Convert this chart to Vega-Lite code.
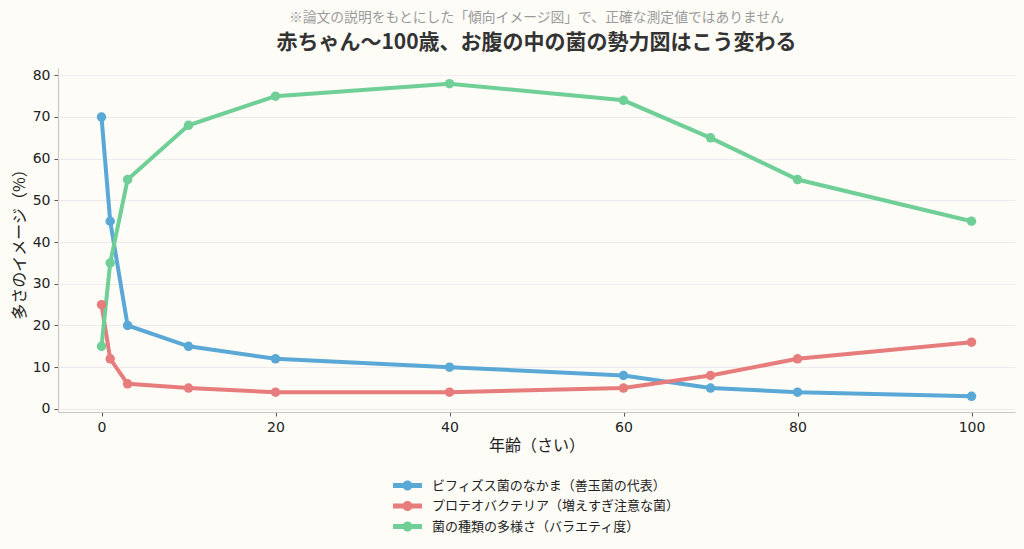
{
  "$schema": "https://vega.github.io/schema/vega-lite/v6.json",
  "width": 957,
  "height": 344,
  "autosize": {"type": "none"},
  "padding": {"left": 58, "top": 68, "right": 9, "bottom": 137},
  "background": "#fdfcf7",
  "config": {
    "view": {"stroke": null},
    "font": "DejaVu Sans, Noto Sans CJK JP"
  },
  "title": {
    "text": "※論文の説明をもとにした「傾向イメージ図」で、正確な測定値ではありません",
    "subtitle": "赤ちゃん〜100歳、お腹の中の菌の勢力図はこう変わる",
    "anchor": "middle",
    "frame": "group",
    "font": "Noto Sans CJK JP",
    "fontSize": 13.8,
    "fontWeight": "normal",
    "color": "#9a9a9a",
    "subtitleFont": "Noto Sans CJK JP",
    "subtitleFontSize": 21,
    "subtitleFontWeight": "bold",
    "subtitleColor": "#333333",
    "subtitlePadding": 7,
    "offset": 15
  },
  "data": {
    "values": [
      {"series": "ビフィズス菌のなかま（善玉菌の代表）", "age": 0, "value": 70},
      {"series": "ビフィズス菌のなかま（善玉菌の代表）", "age": 1, "value": 45},
      {"series": "ビフィズス菌のなかま（善玉菌の代表）", "age": 3, "value": 20},
      {"series": "ビフィズス菌のなかま（善玉菌の代表）", "age": 10, "value": 15},
      {"series": "ビフィズス菌のなかま（善玉菌の代表）", "age": 20, "value": 12},
      {"series": "ビフィズス菌のなかま（善玉菌の代表）", "age": 40, "value": 10},
      {"series": "ビフィズス菌のなかま（善玉菌の代表）", "age": 60, "value": 8},
      {"series": "ビフィズス菌のなかま（善玉菌の代表）", "age": 70, "value": 5},
      {"series": "ビフィズス菌のなかま（善玉菌の代表）", "age": 80, "value": 4},
      {"series": "ビフィズス菌のなかま（善玉菌の代表）", "age": 100, "value": 3},
      {"series": "プロテオバクテリア（増えすぎ注意な菌）", "age": 0, "value": 25},
      {"series": "プロテオバクテリア（増えすぎ注意な菌）", "age": 1, "value": 12},
      {"series": "プロテオバクテリア（増えすぎ注意な菌）", "age": 3, "value": 6},
      {"series": "プロテオバクテリア（増えすぎ注意な菌）", "age": 10, "value": 5},
      {"series": "プロテオバクテリア（増えすぎ注意な菌）", "age": 20, "value": 4},
      {"series": "プロテオバクテリア（増えすぎ注意な菌）", "age": 40, "value": 4},
      {"series": "プロテオバクテリア（増えすぎ注意な菌）", "age": 60, "value": 5},
      {"series": "プロテオバクテリア（増えすぎ注意な菌）", "age": 70, "value": 8},
      {"series": "プロテオバクテリア（増えすぎ注意な菌）", "age": 80, "value": 12},
      {"series": "プロテオバクテリア（増えすぎ注意な菌）", "age": 100, "value": 16},
      {"series": "菌の種類の多様さ（バラエティ度）", "age": 0, "value": 15},
      {"series": "菌の種類の多様さ（バラエティ度）", "age": 1, "value": 35},
      {"series": "菌の種類の多様さ（バラエティ度）", "age": 3, "value": 55},
      {"series": "菌の種類の多様さ（バラエティ度）", "age": 10, "value": 68},
      {"series": "菌の種類の多様さ（バラエティ度）", "age": 20, "value": 75},
      {"series": "菌の種類の多様さ（バラエティ度）", "age": 40, "value": 78},
      {"series": "菌の種類の多様さ（バラエティ度）", "age": 60, "value": 74},
      {"series": "菌の種類の多様さ（バラエティ度）", "age": 70, "value": 65},
      {"series": "菌の種類の多様さ（バラエティ度）", "age": 80, "value": 55},
      {"series": "菌の種類の多様さ（バラエティ度）", "age": 100, "value": 45}
    ]
  },
  "encoding": {
    "x": {
      "field": "age",
      "type": "quantitative",
      "scale": {"domain": [-5, 105], "nice": false, "zero": false},
      "axis": {
        "title": "年齢（さい）",
        "values": [0, 20, 40, 60, 80, 100],
        "grid": false,
        "domainColor": "#c8c8c8",
        "domainWidth": 1.2,
        "tickColor": "#555555",
        "tickSize": 4,
        "labelFont": "DejaVu Sans",
        "labelFontSize": 14,
        "labelColor": "#222222",
        "labelPadding": 4,
        "titleFont": "Noto Sans CJK JP",
        "titleFontSize": 16,
        "titleFontWeight": "normal",
        "titleColor": "#222222",
        "titlePadding": 3
      }
    },
    "y": {
      "field": "value",
      "type": "quantitative",
      "scale": {"domain": [-0.75, 81.75], "nice": false, "zero": false},
      "axis": {
        "title": "多さのイメージ（%）",
        "values": [0, 10, 20, 30, 40, 50, 60, 70, 80],
        "grid": true,
        "gridColor": "#ececec",
        "gridWidth": 1,
        "domainColor": "#c8c8c8",
        "domainWidth": 1.2,
        "tickColor": "#555555",
        "tickSize": 4,
        "labelFont": "DejaVu Sans",
        "labelFontSize": 14,
        "labelColor": "#222222",
        "labelPadding": 4,
        "titleFont": "Noto Sans CJK JP",
        "titleFontSize": 16,
        "titleFontWeight": "normal",
        "titleColor": "#222222",
        "titlePadding": 5
      }
    },
    "color": {
      "field": "series",
      "type": "nominal",
      "sort": null,
      "scale": {
        "domain": ["ビフィズス菌のなかま（善玉菌の代表）", "プロテオバクテリア（増えすぎ注意な菌）", "菌の種類の多様さ（バラエティ度）"],
        "range": ["#5aa8d6", "#e67c7c", "#6fcf97"]
      },
      "legend": {
        "title": null,
        "orient": "none",
        "legendX": 342,
        "legendY": 410,
        "padding": 0,
        "symbolType": "M-2,-0.33H2V0.33H-2Z M-0.69,0A0.69,0.69 0 1,1 0.69,0A0.69,0.69 0 1,1 -0.69,0Z",
        "symbolSize": 210,
        "symbolStrokeWidth": 0,
        "symbolOpacity": 1,
        "labelFont": "Noto Sans CJK JP",
        "labelFontSize": 13,
        "labelColor": "#222222",
        "labelLimit": 0,
        "labelOffset": 17,
        "rowPadding": 5.5
      }
    }
  },
  "layer": [
    {
      "mark": {"type": "line", "strokeWidth": 4}
    },
    {
      "mark": {"type": "point", "filled": true, "size": 90, "opacity": 1}
    }
  ]
}
